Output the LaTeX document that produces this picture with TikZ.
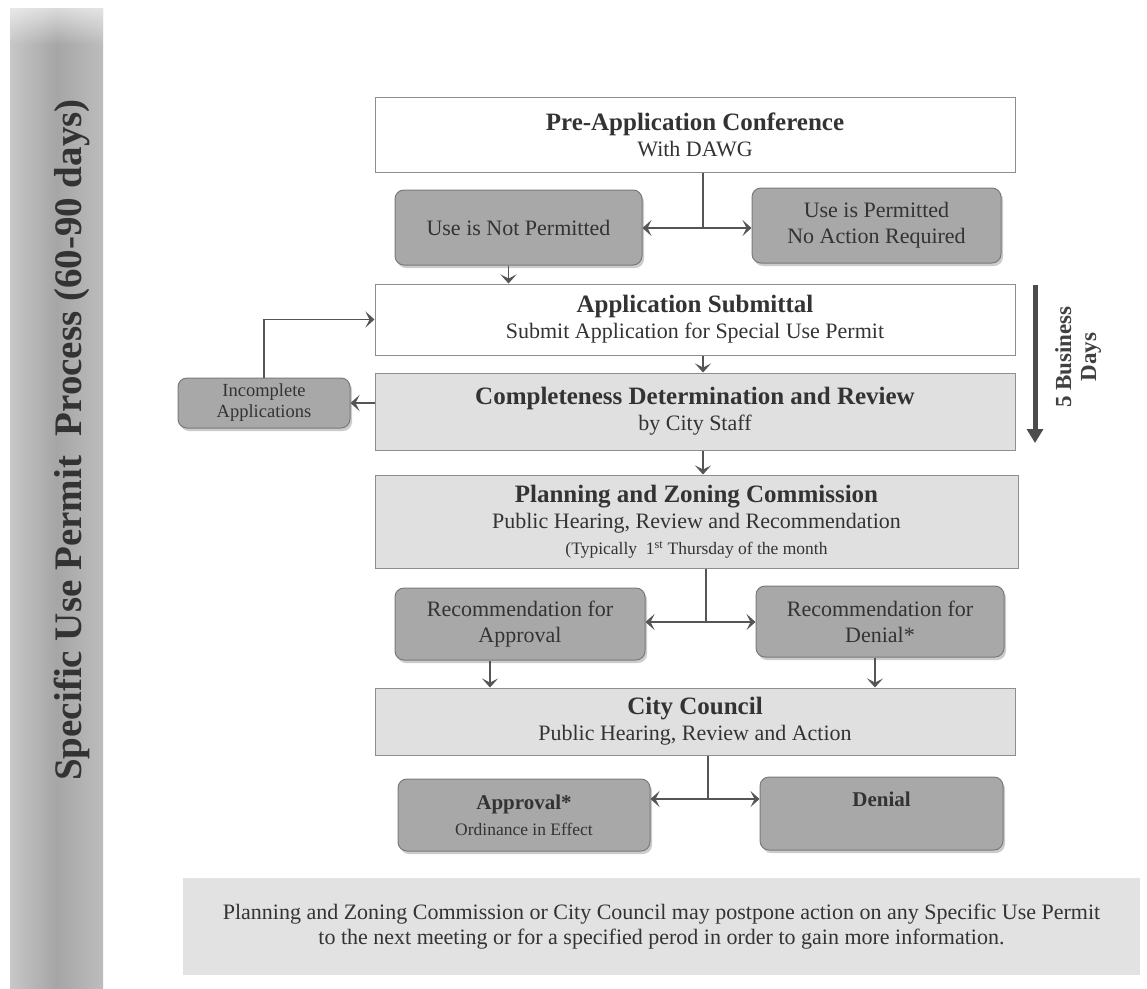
\documentclass[tikz,border=0pt]{standalone}
\usepackage{fontspec}
\setmainfont{Liberation Serif}
\usetikzlibrary{arrows.meta,shadows,calc,fadings}
\definecolor{boxgray}{HTML}{A8A8A8}
\definecolor{boxedge}{HTML}{7A7A7A}
\definecolor{lightbox}{HTML}{E0E0E0}
\definecolor{edgec}{HTML}{8E8E8E}
\definecolor{ink}{HTML}{333333}
\definecolor{linec}{HTML}{555555}
\definecolor{notegray}{HTML}{E2E2E2}
\newcommand{\mytitle}[1]{{\fontsize{25}{28}\selectfont\bfseries #1}}
\newcommand{\mysubline}[1]{{\fontsize{22}{26}\selectfont #1}}
\newcommand{\myrtitle}[1]{{\fontsize{21}{26}\selectfont\bfseries #1}}
\newcommand{\mytiny}[1]{{\fontsize{17.5}{20}\selectfont #1}}
\begin{document}
\begin{tikzpicture}[x=1pt,y=-1pt,
  every node/.style={font=\fontsize{22}{26}\selectfont, text=ink},
  wbox/.style={draw=edgec, line width=1pt, fill=white, align=center, inner sep=2pt},
  lbox/.style={wbox, fill=lightbox},
  rbox/.style={draw=boxedge, line width=1pt, fill=boxgray, rounded corners=9pt, align=center, inner sep=2pt,
    drop shadow={shadow xshift=2pt, shadow yshift=-3pt, opacity=0.4}},
  conn/.style={draw=linec, line width=1.1pt},
  arr/.style={conn, -{Stealth[length=9pt,width=16pt,inset=4pt]}},
]
\useasboundingbox (0,0) rectangle (1147,988);
\fill[white] (0,0) rectangle (1147,988);

% left bar
\shade[left color=black!22, right color=black!26, middle color=black!35] (10,8) rectangle (103,988);
\fill[white, opacity=0.6, path fading=south] (10,8) rectangle (103,45);
\node[rotate=90, font=\fontsize{39}{44}\selectfont\bfseries, text=black!80] (bartext) at (72,440) {Specific Use Permit\ \ Process (60-90 days)};

% boxes
\node[wbox, minimum width=640pt, minimum height=75pt] (pre) at (695,134.5)
  {\mytitle{Pre-Application Conference}\\\mysubline{With DAWG}};
\node[rbox, minimum width=247pt, minimum height=75pt] (notp) at (518.5,227.5) {Use is Not Permitted};
\node[rbox, minimum width=249pt, minimum height=75pt] (perm) at (876.5,225.5) {Use is Permitted\\No Action Required};
\node[wbox, minimum width=640pt, minimum height=71pt] (sub) at (695,319.5)
  {\mytitle{Application Submittal}\\\mysubline{Submit Application for Special Use Permit}};
\node[lbox, minimum width=640pt, minimum height=77pt] (comp) at (695,411.5)
  {\mytitle{Completeness Determination and Review}\\\mysubline{by City Staff}};
\node[rbox, minimum width=172pt, minimum height=50pt, font=\fontsize{18.5}{21}\selectfont] (inc) at (264,403) {Incomplete\\Applications};
\node[lbox, minimum width=643pt, minimum height=93pt] (pz) at (696.5,521.5)
  {\mytitle{Planning and Zoning Commission}\\\mysubline{Public Hearing, Review and Recommendation}\\\mytiny{(Typically\ \ 1\textsuperscript{st} Thursday of the month}};
\node[rbox, minimum width=250pt, minimum height=72pt] (ra) at (520,624) {Recommendation for\\Approval};
\node[rbox, minimum width=248pt, minimum height=71pt] (rd) at (880,621.5) {Recommendation for\\Denial*};
\node[lbox, minimum width=640pt, minimum height=67pt] (cc) at (695,721.5)
  {\mytitle{City Council}\\\mysubline{Public Hearing, Review and Action}};
\node[rbox, minimum width=252pt, minimum height=72pt] (ap) at (524,815)
  {\myrtitle{Approval*}\\\mytiny{Ordinance in Effect}};
\node[rbox, minimum width=243pt, minimum height=73pt] (dn) at (881.5,813.5)
  {\myrtitle{Denial}\\{\fontsize{10}{12}\selectfont\strut}};
\node[fill=notegray, minimum width=957pt, minimum height=97pt, align=center, font=\fontsize{22}{25}\selectfont] (note) at (661.5,926.5)
  {Planning and Zoning Commission or City Council may postpone action on any Specific Use Permit\\to the next meeting or for a specified perod in order to gain more information.};

% 5 business days
\coordinate (bd1) at (1035,285);
\coordinate (bd2) at (1035,443);
\draw[line width=5pt, draw=black!70, -{Triangle[length=14pt,width=16pt]}] (bd1) -- (bd2);
\node[rotate=90, align=center, font=\fontsize{23}{25}\selectfont\bfseries, text=black!75] (bdays) at (1078,357) {5 Business\\Days};

% connectors
\coordinate (j1) at (703,228);
\draw[conn] (pre.south -| j1) -- (j1);
\draw[arr] (j1) -- (j1 -| notp.east);
\draw[arr] (j1) -- (j1 -| perm.west);
\draw[arr] ([xshift=-10pt]notp.south) -- ([xshift=-10pt]notp.south |- sub.north);
\draw[arr] (sub.south -| j1) -- (comp.north -| j1);
\draw[arr] (comp.west |- inc.east) -- (inc.east);
\draw[arr] (inc.north) |- (sub.west);
\draw[arr] (comp.south -| j1) -- (pz.north -| j1);
\coordinate (j2) at (706,622);
\draw[conn] (pz.south -| j2) -- (j2);
\draw[arr] (j2) -- (j2 -| ra.east);
\draw[arr] (j2) -- (j2 -| rd.west);
\draw[arr] ([xshift=-30pt]ra.south) -- ([xshift=-30pt]ra.south |- cc.north);
\draw[arr] ([xshift=-5pt]rd.south) -- ([xshift=-5pt]rd.south |- cc.north);
\coordinate (j3) at (708,799);
\draw[conn] (cc.south -| j3) -- (j3);
\draw[arr] (j3) -- (j3 -| ap.east);
\draw[arr] (j3) -- (j3 -| dn.west);
\end{tikzpicture}
\end{document}
